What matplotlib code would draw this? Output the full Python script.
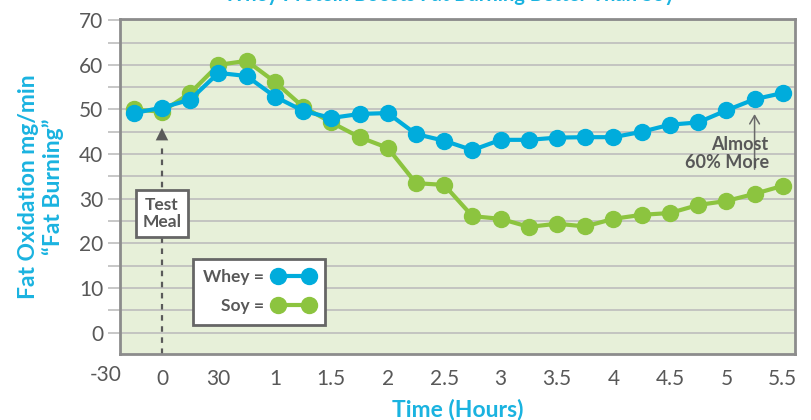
import matplotlib
matplotlib.use("Agg")
import matplotlib.pyplot as plt
from matplotlib.lines import Line2D

# sample times in minutes relative to the test meal
minutes = [-15, 0, 15, 30, 45, 60, 75, 90, 105, 120, 135, 150,
           165, 180, 195, 210, 225, 240, 255, 270, 285, 300, 315, 330]
whey = [49.2, 50.4, 52.2, 58.2, 57.5, 52.9, 49.7, 48.1, 49.0, 49.2, 44.5, 43.0,
        40.9, 43.2, 43.2, 43.7, 43.8, 43.8, 45.0, 46.6, 47.1, 49.8, 52.3, 53.7]
soy = [50.0, 49.5, 53.7, 60.0, 60.9, 56.2, 50.6, 47.1, 43.8, 41.4, 33.5, 33.1,
       26.1, 25.5, 23.7, 24.4, 23.8, 25.5, 26.4, 26.8, 28.6, 29.5, 31.1, 32.9]

tick_minutes = [0, 30, 60, 90, 120, 150, 180, 210, 240, 270, 300, 330]
tick_labels = ["0", "30", "1", "1.5", "2", "2.5", "3", "3.5", "4", "4.5", "5", "5.5"]

CYAN = "#1ab3e0"
BLUE = "#00acdc"
GREEN = "#8cc43f"
GRID = "#bdbdbd"
DARK = "#5a5a5a"
TXT = "#585858"
FONT = ["Lato", "DejaVu Sans"]

plt.rcParams["font.family"] = FONT

fig = plt.figure(figsize=(8.12, 4.2), dpi=100)
ax = fig.add_axes([0.1478, 0.157, 0.8313, 0.798])
ax.set_facecolor("#e7f0d9")

ax.set_xlim(-22.3, 336.5)
ax.set_ylim(-4.8, 70.3)

# horizontal grid every 5
ax.set_yticks(range(0, 75, 5))
ax.set_yticklabels([str(v) if v % 10 == 0 else "" for v in range(0, 75, 5)])
ax.grid(axis="y", color=GRID, linewidth=1.2)
ax.set_axisbelow(True)
ax.tick_params(axis="y", length=9, width=1.2, color=GRID, pad=3,
               labelsize=15, labelcolor=TXT)

ax.set_xticks(tick_minutes)
ax.set_xticklabels(tick_labels)
ax.tick_params(axis="x", length=0, pad=11, labelsize=15, labelcolor=TXT)
# the -30 label sits left of the frame
ax.text(-30, -0.033, "-30", transform=ax.get_xaxis_transform(), ha="center",
        va="top", fontsize=15, color=TXT, clip_on=False)

for s in ax.spines.values():
    s.set_color("#8c8c8c")
    s.set_linewidth(2)

ax.set_xlabel("Time (Hours)", color=CYAN, fontsize=16.5, fontweight="bold", labelpad=7)
ax.set_ylabel("Fat Oxidation mg/min\n\u201cFat Burning\u201d", color=CYAN,
              fontsize=16.5, fontweight="bold", labelpad=11, linespacing=1.18)

# test meal marker
ax.plot([0, 0], [-4.8, 42.5], color=DARK, linewidth=1.6, linestyle=(0, (2.5, 2.5)),
        zorder=2)
ax.annotate("", xy=(0, 46.5), xytext=(0, 42.3),
            arrowprops=dict(arrowstyle="-|>,head_length=0.9,head_width=0.45",
                            color=DARK, linewidth=0), zorder=2)
ax.text(0, 26.7, "Test\nMeal", ha="center", va="center", fontsize=12.5,
        fontweight="bold", color=TXT, linespacing=1.1, zorder=4,
        bbox=dict(boxstyle="square,pad=0.38", facecolor="white",
                  edgecolor="#666666", linewidth=2))

ax.plot(minutes, soy, color=GREEN, linewidth=3, marker="o", markersize=11.5,
        zorder=3, label="Soy =")
ax.plot(minutes, whey, color=BLUE, linewidth=3, marker="o", markersize=11.5,
        zorder=3, label="Whey =")

# difference note
ax.annotate("", xy=(315, 49.6), xytext=(315, 36),
            arrowprops=dict(arrowstyle="->,head_length=0.6,head_width=0.35",
                            color="#6a6a6a", linewidth=1.1), zorder=4)
ax.text(322.5, 40.2, "Almost\n60% More", ha="right", va="center", fontsize=13,
        fontweight="bold", color=TXT, linespacing=1.05, zorder=5)

handles = [Line2D([], [], color=BLUE, linewidth=3, marker="o", markersize=11.5),
           Line2D([], [], color=GREEN, linewidth=3, marker="o", markersize=11.5)]
leg = ax.legend(handles, ["Whey =", "Soy ="], loc="upper left",
                bbox_to_anchor=(0.095, 0.31), markerfirst=False, numpoints=2,
                frameon=True, fancybox=False, framealpha=1, edgecolor="#666666",
                fontsize=12.5, handlelength=2.4, borderpad=0.6, labelspacing=0.75,
                handletextpad=0.5)
leg.get_frame().set_linewidth(2)
for t in leg.get_texts():
    t.set_color(TXT)
    t.set_fontweight("bold")

# title, cropped at the top edge of the image
fig.text(0.554, 0.9976, "Whey Protein Boosts Fat Burning Better Than Soy",
         ha="center", va="baseline", fontsize=14.5, fontweight="bold", color=CYAN)

fig.savefig("out.png", dpi=100)
